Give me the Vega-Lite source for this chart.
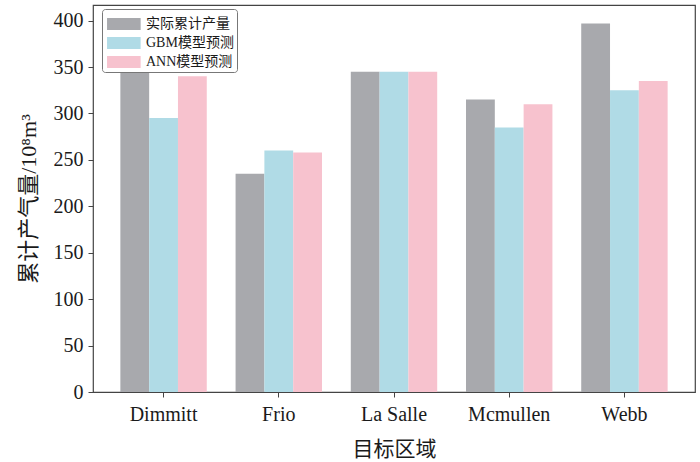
{
  "$schema": "https://vega.github.io/schema/vega-lite/v6.json",
  "width": 602,
  "height": 387,
  "autosize": {"type": "none"},
  "padding": {"left": 93, "top": 5, "right": 5, "bottom": 70},
  "background": "white",
  "config": {
    "view": {"stroke": "#444444", "strokeWidth": 1.2},
    "font": "Liberation Serif",
    "axis": {
      "domainColor": "#444444",
      "tickColor": "#444444",
      "tickSize": 5,
      "labelColor": "#1a1a1a",
      "titleColor": "#1a1a1a",
      "labelFont": "Liberation Serif, Noto Sans CJK SC",
      "titleFont": "Liberation Serif, Noto Sans CJK SC",
      "labelFontSize": 20,
      "titleFontSize": 21,
      "titleFontWeight": "normal",
      "grid": false
    }
  },
  "data": {
    "values": [
      {"region": "Dimmitt", "series": "实际累计产量", "value": 345},
      {"region": "Dimmitt", "series": "GBM模型预测", "value": 295},
      {"region": "Dimmitt", "series": "ANN模型预测", "value": 340},
      {"region": "Frio", "series": "实际累计产量", "value": 235},
      {"region": "Frio", "series": "GBM模型预测", "value": 260},
      {"region": "Frio", "series": "ANN模型预测", "value": 258},
      {"region": "La Salle", "series": "实际累计产量", "value": 345},
      {"region": "La Salle", "series": "GBM模型预测", "value": 345},
      {"region": "La Salle", "series": "ANN模型预测", "value": 345},
      {"region": "Mcmullen", "series": "实际累计产量", "value": 315},
      {"region": "Mcmullen", "series": "GBM模型预测", "value": 285},
      {"region": "Mcmullen", "series": "ANN模型预测", "value": 310},
      {"region": "Webb", "series": "实际累计产量", "value": 397},
      {"region": "Webb", "series": "GBM模型预测", "value": 325},
      {"region": "Webb", "series": "ANN模型预测", "value": 335}
    ]
  },
  "mark": {"type": "bar"},
  "encoding": {
    "x": {
      "field": "region",
      "type": "nominal",
      "sort": ["Dimmitt", "Frio", "La Salle", "Mcmullen", "Webb"],
      "scale": {"paddingInner": 0.25, "paddingOuter": 0.2375},
      "axis": {"title": "目标区域", "labelAngle": 0, "labelPadding": 7, "titlePadding": 14, "domain": false}
    },
    "xOffset": {
      "field": "series",
      "type": "nominal",
      "sort": ["实际累计产量", "GBM模型预测", "ANN模型预测"],
      "scale": {"paddingInner": 0, "paddingOuter": 0}
    },
    "y": {
      "field": "value",
      "type": "quantitative",
      "scale": {"domain": [0, 416.8], "nice": false, "zero": true},
      "axis": {"title": "累计产气量/10⁸m³", "titleFontSize": 22, "values": [0, 50, 100, 150, 200, 250, 300, 350, 400], "labelPadding": 5, "titlePadding": 13, "domain": false}
    },
    "color": {
      "field": "series",
      "type": "nominal",
      "sort": ["实际累计产量", "GBM模型预测", "ANN模型预测"],
      "scale": {"domain": ["实际累计产量", "GBM模型预测", "ANN模型预测"], "range": ["#a8a9ad", "#b0dbe6", "#f7c2ce"]},
      "legend": {
        "title": null,
        "orient": "none",
        "legendX": 9,
        "legendY": 4,
        "padding": 3,
        "strokeColor": "#777777",
        "cornerRadius": 3,
        "fillColor": "white",
        "symbolType": "M-0.83,-0.5H1.97V0.5H-0.83Z",
        "symbolSize": 576,
        "symbolStrokeWidth": 0,
        "symbolOpacity": 1,
        "labelFont": "Liberation Serif, Noto Sans CJK SC",
        "labelFontSize": 14,
        "labelColor": "#1a1a1a",
        "labelOffset": 17,
        "rowPadding": -6
      }
    }
  }
}
